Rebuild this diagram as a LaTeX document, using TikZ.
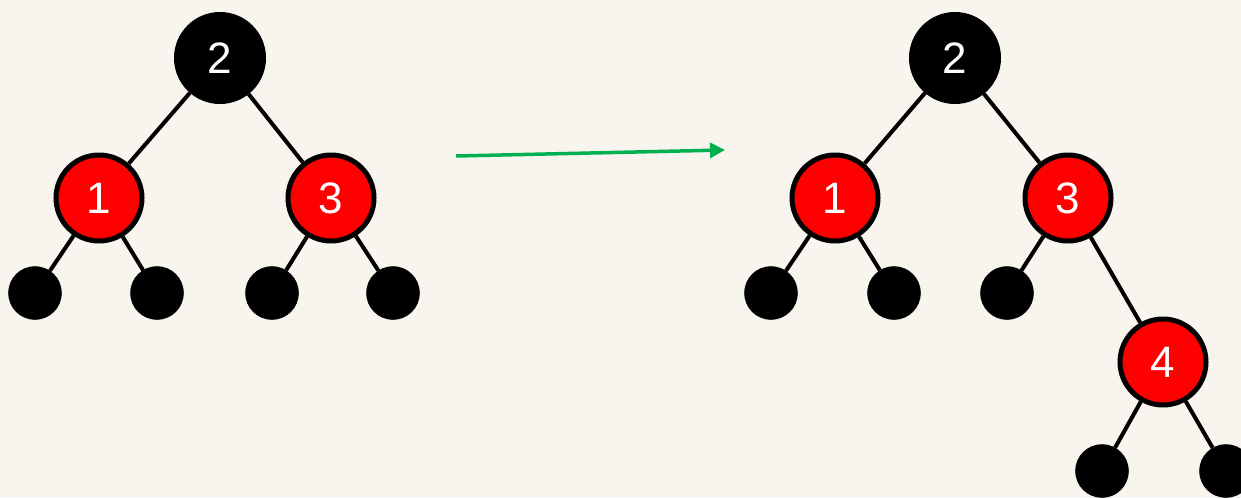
\documentclass[tikz,border=0pt]{standalone}
\usepackage{fontspec}
\setmainfont{Liberation Sans}
\usetikzlibrary{arrows.meta}
\definecolor{bg}{RGB}{247,245,238}
\definecolor{rbred}{RGB}{255,0,0}
\definecolor{arrowgreen}{RGB}{0,176,80}
\tikzset{
  blacknode/.style={circle,fill=black,draw=black,line width=1pt,minimum size=91pt,inner sep=0pt,text=white,font=\fontsize{44}{44}\selectfont},
  rednode/.style={circle,fill=rbred,draw=black,line width=5pt,minimum size=86pt,inner sep=0pt,text=white,font=\fontsize{44}{44}\selectfont},
  leaf/.style={circle,fill=black,draw=black,line width=0.5pt,minimum size=53pt,inner sep=0pt},
  edge/.style={draw=black,line width=4pt},
  trans/.style={draw=arrowgreen,line width=3.5pt,-{Triangle[length=15pt,width=15pt]}}
}
\begin{document}
\begin{tikzpicture}[x=1pt,y=-1pt]
\useasboundingbox (0,0) rectangle (1241,498);
\fill[bg] (0,0) rectangle (1241,498);
\clip (0,0) rectangle (1241,498);
% left tree
\node[blacknode] (a2) at (220,58) {2};
\node[rednode] (a1) at (99,198) {1};
\node[rednode] (a3) at (331,198) {3};
\node[leaf] (al1) at (35,293) {};
\node[leaf] (al2) at (157,293) {};
\node[leaf] (al3) at (272,293) {};
\node[leaf] (al4) at (393,293) {};
\draw[edge] (a2) -- (a1);
\draw[edge] (a2) -- (a3);
\draw[edge] (a1) -- (al1);
\draw[edge] (a1) -- (al2);
\draw[edge] (a3) -- (al3);
\draw[edge] (a3) -- (al4);
% arrow
\coordinate (s) at (456,156);
\coordinate (t) at (725,150);
\draw[trans] (s) -- (t);
% right tree
\node[blacknode] (b2) at (955,58) {2};
\node[rednode] (b1) at (835,198) {1};
\node[rednode] (b3) at (1068,198) {3};
\node[leaf] (bl1) at (771,293) {};
\node[leaf] (bl2) at (894,293) {};
\node[leaf] (bl3) at (1007,293) {};
\node[rednode] (b4) at (1163,362) {4};
\node[leaf] (bl4) at (1102,471) {};
\node[leaf] (bl5) at (1226,471) {};
\draw[edge] (b2) -- (b1);
\draw[edge] (b2) -- (b3);
\draw[edge] (b1) -- (bl1);
\draw[edge] (b1) -- (bl2);
\draw[edge] (b3) -- (bl3);
\draw[edge] (b3) -- (b4);
\draw[edge] (b4) -- (bl4);
\draw[edge] (b4) -- (bl5);
\end{tikzpicture}
\end{document}
